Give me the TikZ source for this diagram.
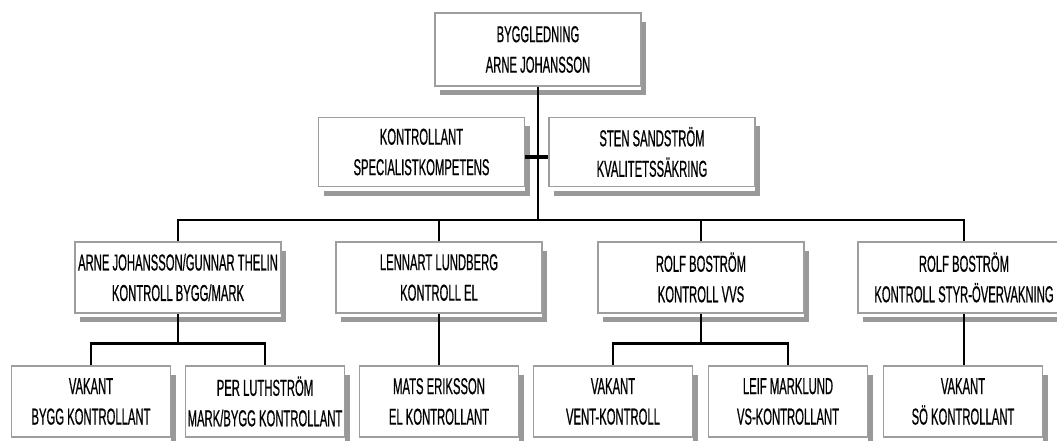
\documentclass[tikz,border=0pt]{standalone}
\usepackage{fontspec}
\setmainfont[FakeStretch=0.49, FakeBold=0.6]{Liberation Sans}
\definecolor{framegray}{gray}{0.62}
\definecolor{shadegray}{gray}{0.6}
\tikzset{
  orgbox/.style={draw=framegray, line width=1.5pt, fill=white, align=center,
    inner sep=0pt, minimum height=71pt, font=\fontsize{23}{30.5}\selectfont,
    preaction={fill=shadegray, transform canvas={shift={(5pt,-9pt)}}},
    preaction={fill=white, transform canvas={shift={(0pt,-4pt)}}}},
  bigbox/.style={orgbox, minimum width=206pt},
  smallbox/.style={orgbox, minimum width=159pt},
  link/.style={line width=2pt},
  sublink/.style={line width=3pt},
}
\begin{document}
\begin{tikzpicture}[x=1pt, y=-1pt]
        \useasboundingbox (0,0) rectangle (1057,441);                          %
        \node [bigbox, minimum height=73pt] (lead) at (538,49.5)  {BYGGLEDNING\\ARNE JOHANSSON};
        \node [bigbox, minimum height=69pt] (spec) at (421.5,152) {KONTROLLANT\\SPECIALISTKOMPETENS};
        \node [bigbox, minimum height=69pt] (qual) at (652,152)   {STEN SANDSTRÖM\\KVALITETSSÄKRING};
        %row 2
        \node [bigbox] (bygg) at (178,277.5) {ARNE JOHANSSON/GUNNAR THELIN\\KONTROLL BYGG/MARK};
        \node [bigbox] (el)   at (439,277.5) {LENNART LUNDBERG\\KONTROLL EL};
        \node [bigbox] (vvs)  at (701,277.5) {ROLF BOSTRÖM\\KONTROLL VVS};
        \node [bigbox, minimum width=212pt] (styr) at (964,277.5) {ROLF BOSTRÖM\\KONTROLL STYR-ÖVERVAKNING};
        %row 3
        \node [smallbox] (vakbygg) at (91,401.5)  {VAKANT\\BYGG KONTROLLANT};
        \node [smallbox] (luth)    at (265,401.5) {PER LUTHSTRÖM\\MARK/BYGG KONTROLLANT};
        \node [smallbox] (eriks)   at (439,401.5) {MATS ERIKSSON\\EL KONTROLLANT};
        \node [smallbox] (vakvent) at (613,401.5) {VAKANT\\VENT-KONTROLL};
        \node [smallbox] (markl)   at (788,401.5) {LEIF MARKLUND\\VS-KONTROLLANT};
        \node [smallbox] (vakso)   at (963,401.5) {VAKANT\\SÖ KONTROLLANT};
        \coordinate (bar) at (538,220);                                        %
        \coordinate (sub) at (0,343);                                          %
        \draw [link] (lead) -- (bar);                                          %
        \draw [line width=4pt] ([yshift=-5pt]spec.east) -- ([yshift=-5pt]qual.west);
        \draw [link] (bygg.north) |- (bar) -| (styr.north);                   %
        \draw [link] (el.north)  -- (el.north |- bar);                         %
        \draw [link] (vvs.north) -- (vvs.north |- bar);                        %
        \draw [link] (bygg.south) -- (bygg.south |- sub);                      %
        \draw [link] (vakbygg.north) |- (sub -| bygg.south) -| (luth.north);   %
        \draw [sublink] (vakbygg.north |- sub) -- (luth.north |- sub);         %
        \draw [link] (el.south) -- (eriks.north);                              %
        \draw [link] (vvs.south) -- (vvs.south |- sub);                        %
        \draw [link] (vakvent.north) |- (sub -| vvs.south) -| (markl.north);   %
        \draw [sublink] (vakvent.north |- sub) -- (markl.north |- sub);        %
        \draw [link] (styr.south) -- (styr.south |- vakso.north);              %
       \end{tikzpicture}
\end{document}
